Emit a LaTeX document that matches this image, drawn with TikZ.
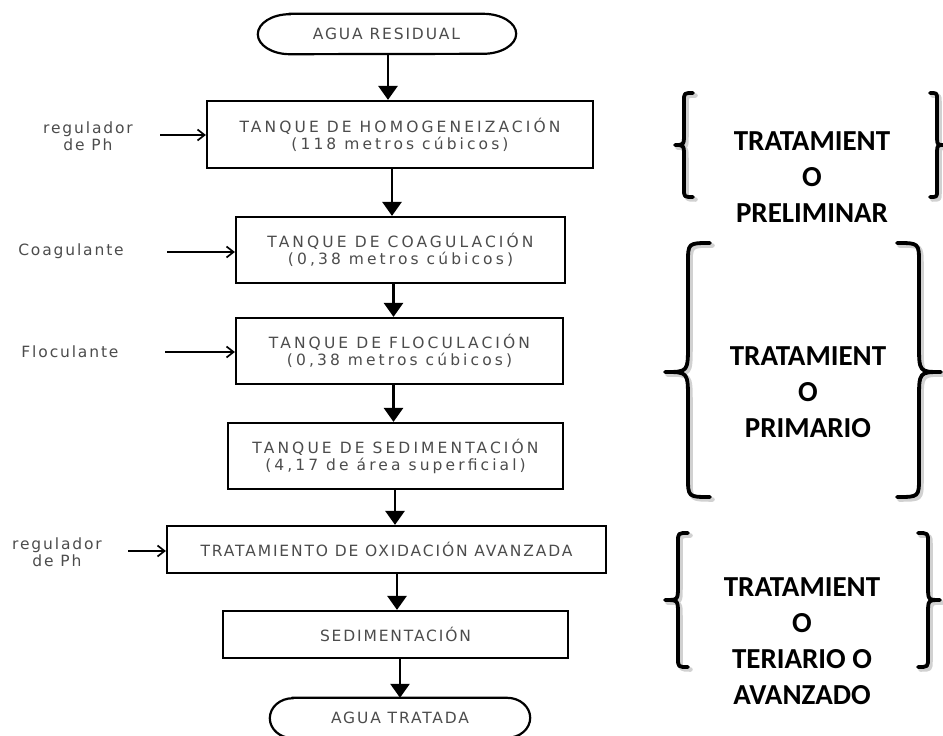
\documentclass[tikz,border=0pt]{standalone}
\usepackage{fontspec}
\usetikzlibrary{arrows.meta}
\newfontfamily\tankfont[LetterSpace=20]{DejaVu Sans}
\newfontfamily\flowfont[LetterSpace=12]{DejaVu Sans}
\newfontfamily\stagefont{Carlito}
\definecolor{textgray}{HTML}{4C4C4C}

% Curly brace drawn as one stroke with a soft grey shadow.
% #1 end x, #2 spine x, #3 tip x, #4 top y, #5 tip y, #6 bottom y,
% #7 end curl size, #8 tip curl size
\newcommand\stagebrace[8]{%
  \draw[curlshade, shift={(2.5,2.5)}] (#1,#4) .. controls (#2,#4) .. (#2,#4+#7)
    -- (#2,#5-#8) .. controls (#2,#5) .. (#3,#5) .. controls (#2,#5) .. (#2,#5+#8)
    -- (#2,#6-#7) .. controls (#2,#6) .. (#1,#6);
  \draw[curl] (#1,#4) .. controls (#2,#4) .. (#2,#4+#7)
    -- (#2,#5-#8) .. controls (#2,#5) .. (#3,#5) .. controls (#2,#5) .. (#2,#5+#8)
    -- (#2,#6-#7) .. controls (#2,#6) .. (#1,#6);
}

\begin{document}
\begin{tikzpicture}[x=1pt, y=-1pt,
  flowtext/.style={font=\flowfont\fontsize{15.5}{17.5}\selectfont, text=textgray},
  tanktext/.style={font=\tankfont\fontsize{15.5}{17}\selectfont},
  stepbox/.style={flowtext, draw, line width=2.2pt, rectangle, inner sep=0pt, align=center},
  terminal/.style={flowtext, inner sep=0pt, minimum height=40pt},
  termline/.style={line width=2.2pt},
  flow/.style={line width=2.8pt, -{Triangle[width=19pt,length=14pt]}},
  feed/.style={line width=1.7pt, -{Straight Barb[width=11pt,length=7pt,line width=1.7pt]}},
  feedlabel/.style={flowtext, align=center},
  stage/.style={align=center, font=\stagefont\bfseries\fontsize{29}{36}\selectfont},
  curl/.style={line width=3.8pt, line cap=round, line join=round},
  curlshade/.style={line width=4.5pt, draw=black!18, line cap=round, line join=round}
]
\useasboundingbox (0,0) rectangle (943,736);
\fill[white] (0,0) rectangle (943,736);

% start and end terminals
\node[terminal, minimum width=193pt] (src) at (386.5,34) {AGUA RESIDUAL};
\draw[termline] (src.north west) -- (src.north east)
  arc[start angle=90, end angle=-90, x radius=33pt, y radius=20pt]
  -- (src.south west)
  arc[start angle=270, end angle=90, x radius=32pt, y radius=20pt] -- cycle;

\node[terminal, minimum width=214pt] (dst) at (400,718) {AGUA TRATADA};
\draw[termline] (dst.north west) -- (dst.north east)
  arc[start angle=90, end angle=-90, x radius=23pt, y radius=20pt]
  -- (dst.south west)
  arc[start angle=270, end angle=90, x radius=23pt, y radius=20pt] -- cycle;

% process steps
\node[stepbox, tanktext, minimum width=386pt, minimum height=67pt] (b1) at (400,134.5)
  {TANQUE DE HOMOGENEIZACIÓN\\(118 metros cúbicos)};
\node[stepbox, tanktext, minimum width=329pt, minimum height=66pt] (b2) at (400.5,250)
  {TANQUE DE COAGULACIÓN\\(0,38 metros cúbicos)};
\node[stepbox, tanktext, minimum width=327pt, minimum height=66pt] (b3) at (399.5,351)
  {TANQUE DE FLOCULACIÓN\\(0,38 metros cúbicos)};
\node[stepbox, tanktext, minimum width=335pt, minimum height=66pt] (b4) at (395.5,456)
  {TANQUE DE SEDIMENTACIÓN\\(4,17 de área superficial)};
\node[stepbox, minimum width=439pt, minimum height=47pt] (b5) at (386.5,549.5)
  {TRATAMIENTO DE OXIDACIÓN AVANZADA};
\node[stepbox, minimum width=345pt, minimum height=47pt] (b6) at (395.5,634.5)
  {SEDIMENTACIÓN};

% main flow
\draw[flow] ([xshift=1.5pt]src.south) -- ([xshift=1.5pt]src.south |- b1.north);
\draw[flow] ([xshift=-8pt]b1.south) -- ([xshift=-8pt]b1.south |- b2.north);
\draw[flow] ([xshift=-7pt]b2.south) -- ([xshift=-7pt]b2.south |- b3.north);
\draw[flow] ([xshift=-6pt]b3.south) -- ([xshift=-6pt]b3.south |- b4.north);
\draw[flow] ([xshift=-0.5pt]b4.south) -- ([xshift=-0.5pt]b4.south |- b5.north);
\draw[flow] ([xshift=10.5pt]b5.south) -- ([xshift=10.5pt]b5.south |- b6.north);
\draw[flow] ([xshift=4.5pt]b6.south) -- ([xshift=4.5pt]b6.south |- dst.north);

% additives
\node[feedlabel] (l1) at (88,136) {regulador\\de Ph};
\node[feedlabel] (l2) at (71,251) {Coagulante};
\node[feedlabel] (l3) at (70,352) {Floculante};
\node[feedlabel] (l4) at (57,552) {regulador\\de Ph};
\coordinate (f1) at (160,135);
\coordinate (f2) at (167,252);
\coordinate (f3) at (165,352);
\coordinate (f4) at (128,551);
\draw[feed] (f1) -- (f1 -| b1.west);
\draw[feed] (f2) -- (f2 -| b2.west);
\draw[feed] (f3) -- (f3 -| b3.west);
\draw[feed] (f4) -- (f4 -| b5.west);

% treatment stages
\node[stage] (s1) at (812,177.5) {TRATAMIENT\\O\\PRELIMINAR};
\node[stage] (s2) at (808,392.5) {TRATAMIENT\\O\\PRIMARIO};
\node[stage] (s3) at (802,641.5) {TRATAMIENT\\O\\TERIARIO O\\AVANZADO};

\stagebrace{693}{684}{675}{93}{145}{197}{8}{12}
\stagebrace{930}{937}{943}{93}{145}{197}{6}{12}
\stagebrace{710}{688}{665}{243}{372}{497}{20}{28}
\stagebrace{897}{919}{941}{243}{372}{497}{20}{28}
\stagebrace{688}{678}{665}{533}{600}{667}{9}{14}
\stagebrace{918}{928}{940}{533}{600}{667}{9}{14}
\end{tikzpicture}
\end{document}
